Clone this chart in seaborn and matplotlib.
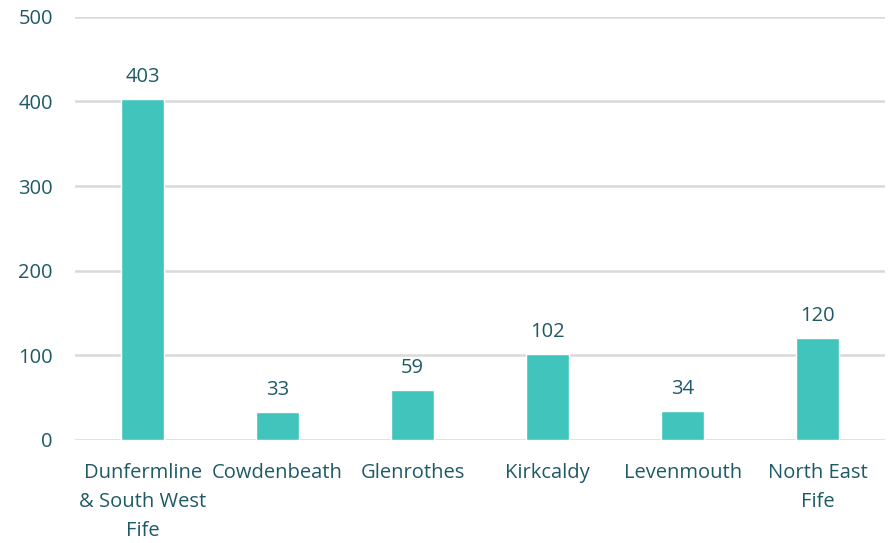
import pandas as pd
import matplotlib.pyplot as plt
import seaborn as sns

# ============================================================================
# DATA
# ============================================================================

areas = ["Dunfermline\n& South West\nFife", "Cowdenbeath", "Glenrothes",
         "Kirkcaldy", "Levenmouth", "North East\nFife"]
counts = [403, 33, 59, 102, 34, 120]
yticks = [0, 100, 200, 300, 400, 500]

BAR = "#41C4BC"
TXT = "#1E5A66"
GRID = "#D9D9D9"
FS = 14.5

df = pd.DataFrame({"area": areas, "count": counts})

sns.set_theme(style="white")
plt.rcParams['font.family'] = ['Open Sans', 'DejaVu Sans']

fig, ax = plt.subplots(figsize=(8.95, 5.43), dpi=100)
fig.subplots_adjust(left=0.084, right=0.989, bottom=0.19, top=0.969)

sns.barplot(data=df, x="area", y="count", color=BAR, width=0.32,
            saturation=1, ax=ax, zorder=3)

for i, v in enumerate(counts):
    ax.text(i, v + 14, f"{v}", ha="center", va="bottom",
            fontsize=FS, color=TXT)

ax.set_ylim(0, 500)
ax.set_yticks(yticks)
ax.grid(axis="y", color=GRID, linewidth=1.8, zorder=0)
ax.set_axisbelow(True)
sns.despine(ax=ax, left=True, bottom=True)

ax.set_xlabel("")
ax.set_ylabel("")
ax.tick_params(axis="y", length=0, pad=16, labelsize=FS, labelcolor=TXT)
ax.tick_params(axis="x", length=0, pad=17, labelsize=FS, labelcolor=TXT)
for lab in ax.get_xticklabels():
    lab.set_linespacing(1.6)

plt.savefig("out.png", dpi=100)
plt.close()
